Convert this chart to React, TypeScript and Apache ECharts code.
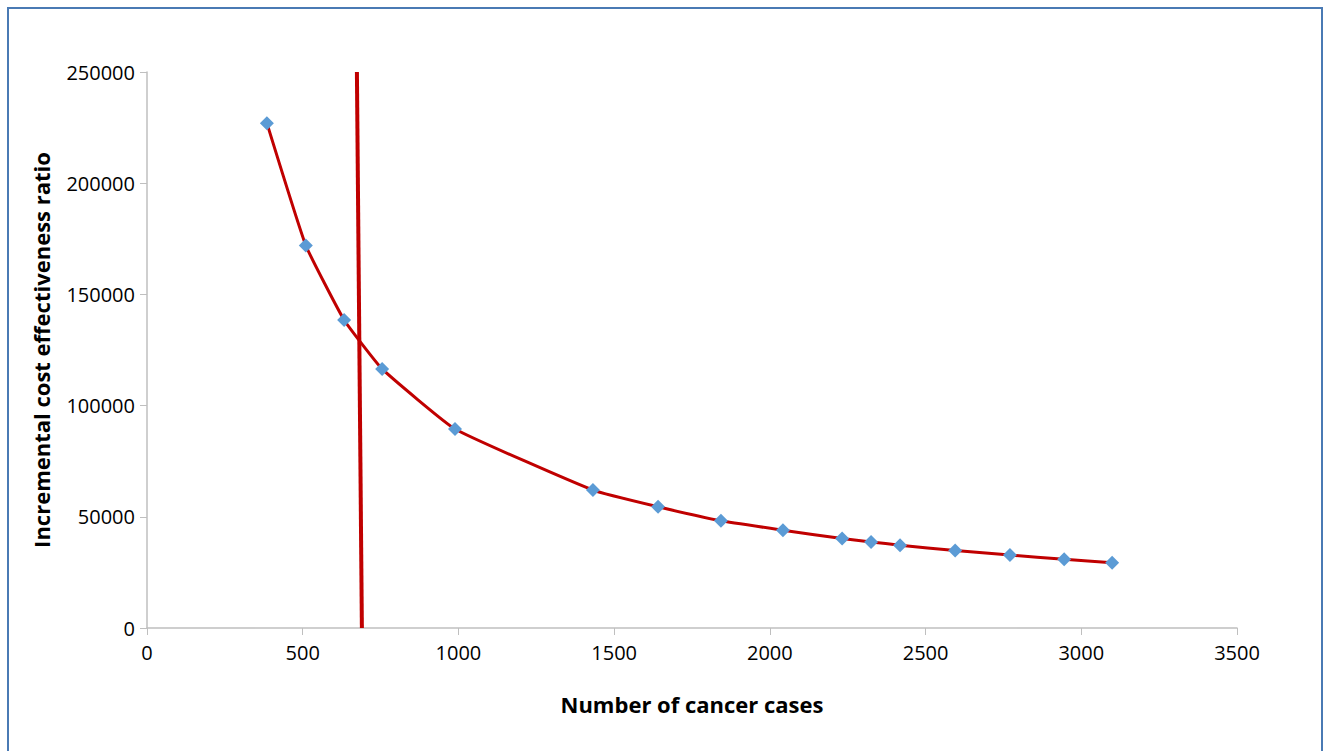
import React, { useEffect, useRef } from "react";
import * as echarts from "echarts";

const casesX = [385, 510, 633, 755, 989, 1432, 1641, 1843, 2042, 2232, 2325, 2418, 2595, 2771, 2945, 3099];
const icerY = [227000, 172000, 138500, 116500, 89500, 62000, 54500, 48200, 44000, 40200, 38700, 37200, 34800, 32800, 30900, 29300];
const thresholdX = [690, 674];
const thresholdY = [0, 250000];

export default function App() {
  const ref = useRef<HTMLDivElement>(null);
  useEffect(() => {
    if (!ref.current) return;
    const chart = echarts.init(ref.current, undefined, { renderer: "svg" });
    const font = "'Open Sans', 'Noto Sans', sans-serif";
    chart.setOption({
      animation: false,
      backgroundColor: "#ffffff",
      grid: { left: 147, right: 92, top: 72, bottom: 123 },
      graphic: [
        {
          type: "rect",
          shape: { x: 8, y: 8, width: 1314, height: 770 },
          style: { fill: "none", stroke: "#4a7ab4", lineWidth: 2 },
        },
      ],
      xAxis: {
        type: "value",
        min: 0,
        max: 3500,
        interval: 500,
        name: "Number of cancer cases",
        nameLocation: "middle",
        nameGap: 65,
        nameTextStyle: { fontFamily: font, fontSize: 22, fontWeight: "bold", color: "#000" },
        splitLine: { show: false },
        axisLine: { lineStyle: { color: "#bfbfbf", width: 1.5 } },
        axisTick: { show: true, length: 7, lineStyle: { color: "#bfbfbf" } },
        axisLabel: { fontFamily: font, fontSize: 20, color: "#000", margin: 14, formatter: (v: number) => String(v) },
      },
      yAxis: {
        type: "value",
        min: 0,
        max: 250000,
        interval: 50000,
        name: "Incremental cost effectiveness ratio",
        nameLocation: "middle",
        nameGap: 95,
        nameTextStyle: { fontFamily: font, fontSize: 22, fontWeight: "bold", color: "#000" },
        splitLine: { show: false },
        axisLine: { show: true, lineStyle: { color: "#bfbfbf", width: 1.5 } },
        axisTick: { show: true, length: 7, lineStyle: { color: "#bfbfbf" } },
        axisLabel: { fontFamily: font, fontSize: 20, color: "#000", margin: 12, formatter: (v: number) => String(v) },
      },
      series: [
        {
          type: "line",
          data: thresholdX.map((x, i) => [x, thresholdY[i]]),
          symbol: "none",
          lineStyle: { color: "#c00000", width: 4 },
          z: 3,
        },
        {
          type: "line",
          data: casesX.map((x, i) => [x, icerY[i]]),
          smooth: 0.12,
          symbol: "diamond",
          symbolSize: 14,
          itemStyle: { color: "#5b9bd5" },
          lineStyle: { color: "#c00000", width: 3 },
          z: 4,
        },
      ],
    });
    return () => chart.dispose();
  }, []);
  return (
    <div
      ref={ref}
      style={{ position: "absolute", left: 0, top: 0, width: 1329, height: 751 }}
    />
  );
}
